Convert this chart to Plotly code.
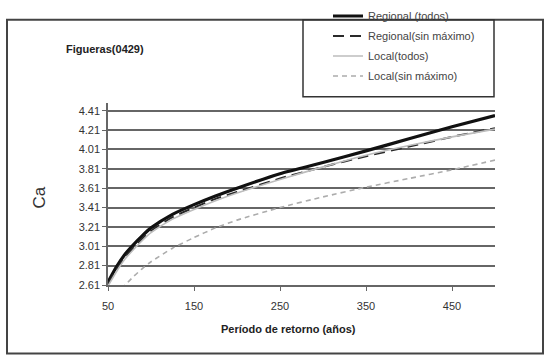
import plotly.graph_objects as go

# ---- data ----
periodo = [50, 60, 70, 80, 90, 100, 125, 150, 175, 200, 250, 300, 350, 400, 450, 500]
regional_todos = [2.64, 2.80, 2.93, 3.03, 3.12, 3.20, 3.34, 3.44, 3.53, 3.61, 3.76, 3.875, 3.995, 4.12, 4.245, 4.36]
regional_sin_max = [2.62, 2.77, 2.90, 3.00, 3.09, 3.17, 3.31, 3.41, 3.50, 3.57, 3.71, 3.83, 3.94, 4.04, 4.14, 4.23]
local_todos = [2.60, 2.75, 2.88, 2.98, 3.07, 3.15, 3.29, 3.39, 3.48, 3.56, 3.70, 3.83, 3.95, 4.05, 4.14, 4.22]
local_sin_max = [2.45, 2.53, 2.61, 2.70, 2.78, 2.85, 2.99, 3.10, 3.20, 3.28, 3.41, 3.52, 3.62, 3.71, 3.80, 3.90]

series_names = ["Regional (todos)", "Regional(sin máximo)", "Local(todos)", "Local(sin máximo)"]
y_ticks = [2.61, 2.81, 3.01, 3.21, 3.41, 3.61, 3.81, 4.01, 4.21, 4.41]
x_ticks = [50, 150, 250, 350, 450]
title_text = "Figueras(0429)"
x_title = "Período de retorno (años)"
y_title = "Ca"

FONT = "Arial, Liberation Sans, sans-serif"

# plot area geometry (pixels)
W, H = 546, 359
L, R, T, B = 108, 495, 93, 285
pw, ph = R - L, B - T

def px(x):
    return (x - L) / pw

def py(y):
    return (B - y) / ph

fig = go.Figure()
styles = [
    dict(color="#111111", width=3.2),
    dict(color="#2a2a2a", width=2, dash="11px,6px"),
    dict(color="#bdbdbd", width=1.6),
    dict(color="#acacac", width=1.6, dash="5px,4px"),
]
for i, (name, vals, st) in enumerate(zip(series_names,
                          [regional_todos, regional_sin_max, local_todos, local_sin_max],
                          styles)):
    fig.add_trace(go.Scatter(x=periodo, y=vals, mode="lines", name=name,
                             legendgroup=f"g{i}",
                             line=dict(shape="spline", smoothing=0.6, **st)))

fig.update_layout(
    width=W, height=H,
    margin=dict(l=L, r=W - R, t=T, b=H - B),
    paper_bgcolor="white", plot_bgcolor="white",
    font=dict(family=FONT, size=11, color="#333333"),
    showlegend=True,
    legend=dict(x=px(328), y=1.0 - 1.5 / H, xref="paper", yref="container",
                xanchor="left", yanchor="top",
                bgcolor="rgba(0,0,0,0)", borderwidth=0,
                font=dict(family=FONT, size=11, color="#444444"),
                tracegroupgap=1, itemwidth=30),
    xaxis=dict(range=[50, 500], tickvals=x_ticks, ticktext=[str(v) for v in x_ticks],
               showgrid=False, zeroline=False, showline=True, linecolor="#666666", linewidth=1.5,
               ticks="outside", ticklen=4, tickcolor="#666666", tickwidth=1,
               ticklabelstandoff=6, tickfont=dict(size=11, color="#333333")),
    yaxis=dict(range=[2.61, 4.495], tickvals=y_ticks, ticktext=[f"{v:.2f}" for v in y_ticks],
               showgrid=True, gridcolor="#666666", gridwidth=1.5, zeroline=False,
               showline=True, linecolor="#666666", linewidth=1.5,
               ticks="outside", ticklen=4, tickcolor="#666666", tickwidth=1,
               tickfont=dict(size=11, color="#333333")),
    shapes=[
        dict(type="rect", xref="paper", yref="paper",
             x0=px(7), x1=px(543), y0=py(357), y1=py(6),
             line=dict(color="#444444", width=2), layer="above"),
        dict(type="rect", xref="paper", yref="paper",
             x0=px(303), x1=px(494), y0=py(87), y1=py(6),
             line=dict(color="#333333", width=1.5), fillcolor="rgba(0,0,0,0)", layer="above"),
    ],
    annotations=[
        dict(text=f"<b>{title_text}</b>", xref="paper", yref="paper",
             x=px(105), y=py(37), xanchor="center", yanchor="middle", showarrow=False,
             font=dict(family=FONT, size=11, color="#222222")),
        dict(text=f"<b>{x_title}</b>", xref="paper", yref="paper",
             x=px(288), y=py(331), xanchor="center", yanchor="middle", showarrow=False,
             font=dict(family=FONT, size=11, color="#222222")),
        dict(text=y_title, xref="paper", yref="paper",
             x=px(40), y=py(193), xanchor="center", yanchor="middle", showarrow=False,
             textangle=-90, font=dict(family=FONT, size=17, color="#333333")),
    ],
)

fig.write_html("out.html", config={"displayModeBar": False},
               post_script="document.body.style.margin='0';document.body.style.overflow='hidden';")
